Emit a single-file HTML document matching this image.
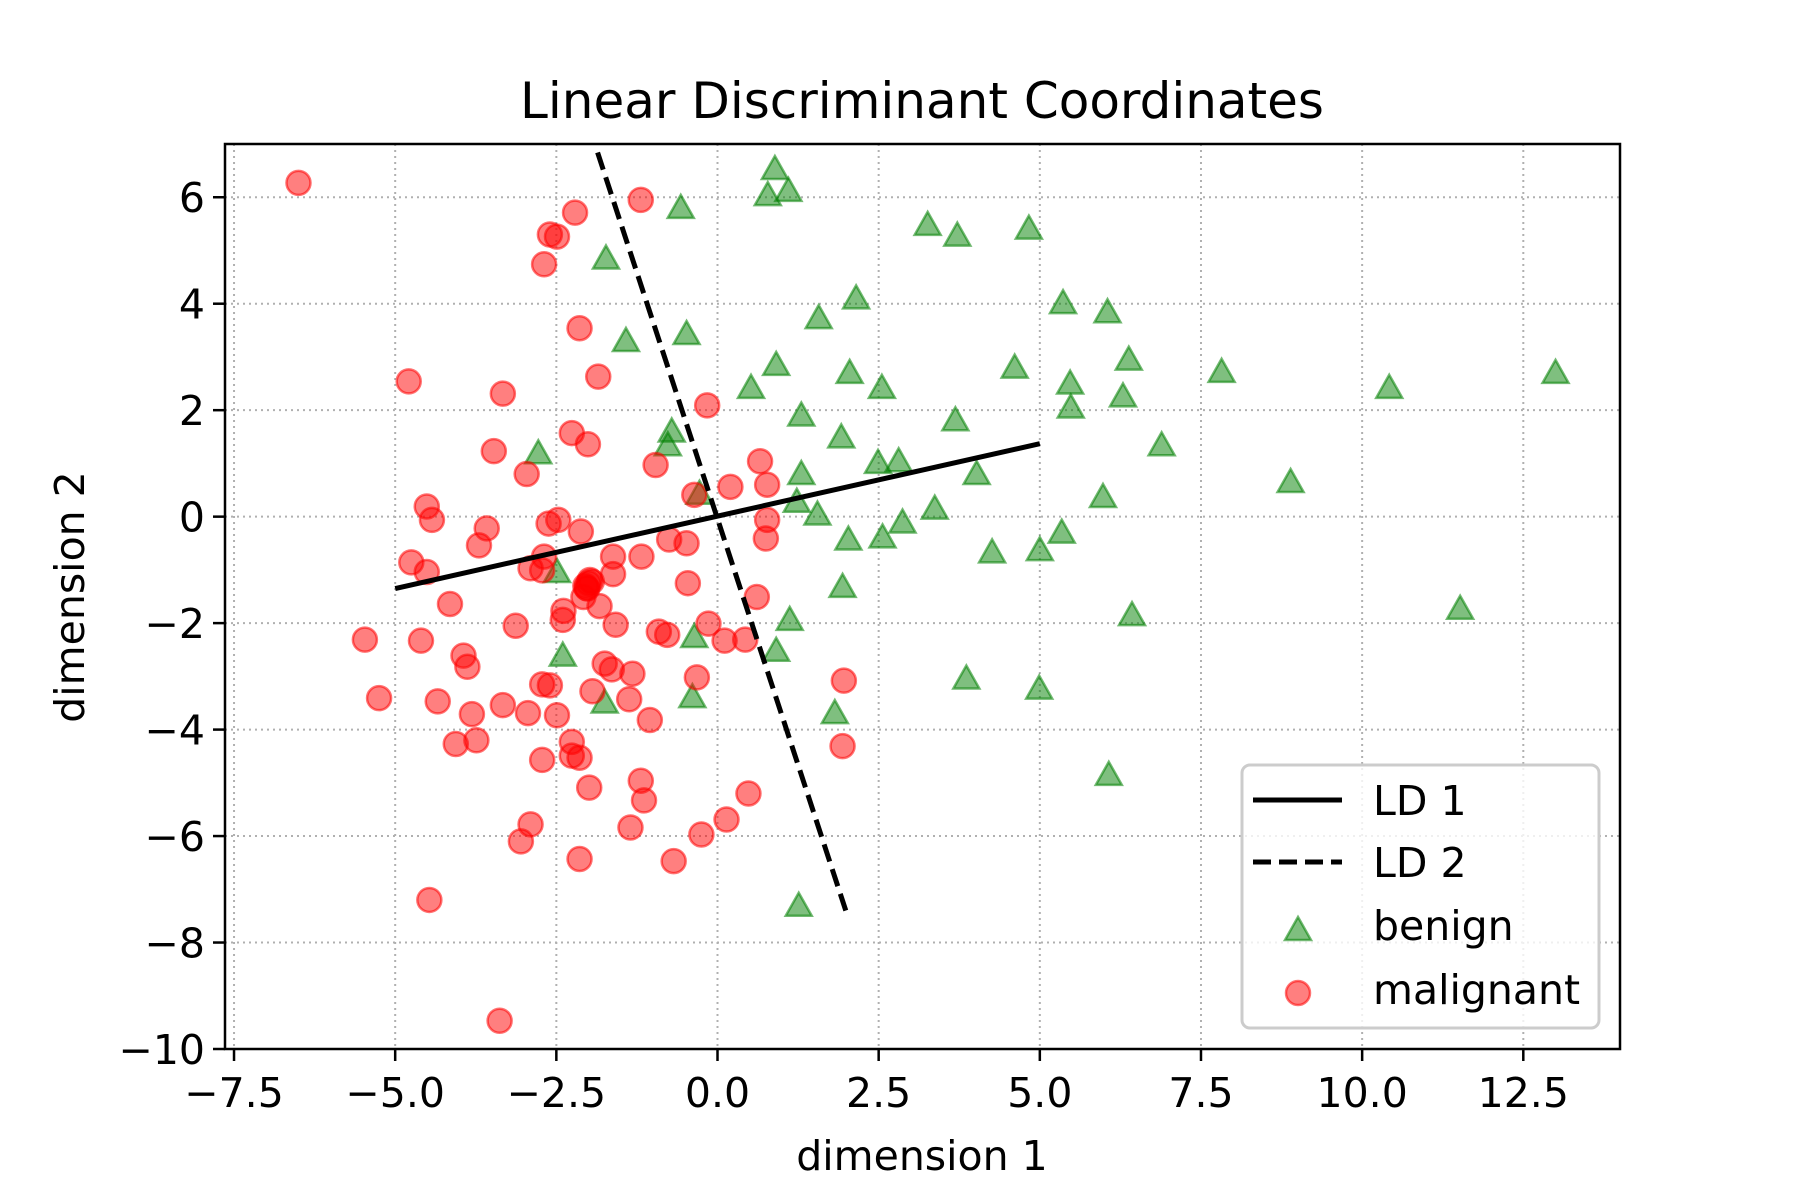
<!DOCTYPE html>
<html><head><meta charset="utf-8"><style>
html,body{margin:0;padding:0;background:#fff;}
svg{display:block;font-family:"DejaVu Sans","Liberation Sans",sans-serif;}
</style></head><body>
<svg id="chart" width="1800" height="1200" viewBox="0 0 1800 1200">
<g id="grid"></g>
<g id="lines"></g>
<g id="marks"></g>
<g id="axes"></g>
<text x="922" y="118" font-size="50" text-anchor="middle">Linear Discriminant Coordinates</text>
<text x="922" y="1170" font-size="41" text-anchor="middle">dimension 1</text>
<text x="0" y="0" font-size="41" text-anchor="middle" transform="translate(84,597) rotate(-90)">dimension 2</text>
<g>
<rect x="1242" y="765" width="357" height="263" rx="8" fill="#fff" fill-opacity="0.8" stroke="#cccccc" stroke-width="3"/>
<line x1="1253" y1="800" x2="1342" y2="800" stroke="#000" stroke-width="5"/>
<text x="1373" y="815" font-size="41">LD 1</text>
<line x1="1253" y1="862" x2="1342" y2="862" stroke="#000" stroke-width="5" stroke-dasharray="18,8"/>
<text x="1373" y="877" font-size="41">LD 2</text>
<polygon points="1298,917 1311,940 1285,940" fill="rgba(0,128,0,0.5)" stroke="rgba(0,128,0,0.55)" stroke-width="2.5"/>
<text x="1373" y="940" font-size="41">benign</text>
<circle cx="1298" cy="993" r="12" fill="rgba(255,0,0,0.5)" stroke="rgba(255,0,0,0.55)" stroke-width="2.5"/>
<text x="1373" y="1004" font-size="41">malignant</text>
</g>
</svg>
<script>
const xTicks = [-7.5,-5.0,-2.5,0.0,2.5,5.0,7.5,10.0,12.5];
const xTickLabels = ["\u22127.5","\u22125.0","\u22122.5","0.0","2.5","5.0","7.5","10.0","12.5"];
const yTicks = [-10,-8,-6,-4,-2,0,2,4,6];
const yTickLabels = ["\u221210","\u22128","\u22126","\u22124","\u22122","0","2","4","6"];
const ld1X = [-5.0, 5.0];
const ld1Y = [-1.35, 1.37];
const ld2X = [-1.86, 1.99];
const ld2Y = [6.84, -7.40];
const benignX = [0.89,0.78,1.10,-0.57,3.26,3.72,4.83,-1.73,2.15,5.36,6.05,1.57,-1.42,-0.48,6.38,4.61,0.91,2.05,7.82,13.0,10.42,5.47,0.52,2.55,6.29,5.48,1.30,3.69,-0.71,-0.77,1.92,6.89,-2.78,2.49,2.81,4.02,1.30,8.89,1.23,-0.28,5.98,3.37,1.55,2.87,2.03,2.56,5.34,4.26,5.00,-2.49,1.94,11.52,1.12,6.43,-0.36,0.91,-2.40,3.86,4.99,-0.39,-1.75,1.82,6.07,1.26];
const benignY = [6.53,6.04,6.12,5.80,5.48,5.28,5.41,4.85,4.10,4.01,3.84,3.73,3.30,3.43,2.95,2.80,2.85,2.70,2.72,2.70,2.42,2.50,2.42,2.42,2.26,2.05,1.90,1.81,1.60,1.34,1.49,1.34,1.19,1.01,1.04,0.80,0.80,0.65,0.28,0.43,0.37,0.15,0.04,-0.11,-0.43,-0.39,-0.30,-0.67,-0.63,-1.04,-1.32,-1.73,-1.94,-1.85,-2.26,-2.52,-2.61,-3.04,-3.23,-3.39,-3.49,-3.69,-4.85,-7.31];
const malignantX = [-6.50,-1.19,-2.21,-2.60,-2.49,-2.69,-2.14,-1.85,-4.79,-3.33,-0.16,-2.26,-2.01,-3.47,-2.96,-0.96,0.66,0.77,0.20,-0.36,-4.51,-4.43,-3.58,-3.70,-2.47,-2.62,-2.12,0.77,0.75,-0.75,-0.48,-2.69,-1.62,-1.18,-4.75,-4.51,-2.90,-2.72,-1.62,-1.98,-2.03,-2.08,-0.46,0.61,-4.15,-2.39,-1.83,-2.40,-3.13,-1.58,-0.14,-0.91,-0.78,0.11,0.43,-5.47,-4.60,-3.94,-3.88,-1.75,-1.64,-2.72,-2.60,-1.32,-0.32,1.96,-1.94,-5.25,-4.34,-3.33,-1.37,-3.81,-2.94,-2.49,-1.05,-4.06,-3.74,-2.26,-2.26,-2.14,-2.72,1.94,-1.19,-1.14,-1.99,0.48,0.14,-2.90,-1.35,-3.05,-2.14,-0.25,-0.68,-4.47,-3.38,-2.00,-2.05,-1.95,-2.02];
const malignantY = [6.27,5.95,5.71,5.30,5.26,4.74,3.54,2.63,2.54,2.31,2.09,1.57,1.36,1.23,0.80,0.97,1.04,0.60,0.56,0.41,0.19,-0.06,-0.22,-0.54,-0.06,-0.13,-0.28,-0.06,-0.41,-0.43,-0.50,-0.75,-0.75,-0.75,-0.86,-1.04,-0.97,-1.01,-1.08,-1.19,-1.34,-1.51,-1.25,-1.51,-1.64,-1.77,-1.68,-1.94,-2.05,-2.03,-2.01,-2.16,-2.22,-2.33,-2.31,-2.31,-2.33,-2.61,-2.82,-2.76,-2.87,-3.15,-3.17,-2.95,-3.02,-3.08,-3.28,-3.41,-3.47,-3.54,-3.43,-3.71,-3.69,-3.73,-3.82,-4.27,-4.20,-4.23,-4.49,-4.53,-4.57,-4.31,-4.96,-5.33,-5.09,-5.20,-5.69,-5.78,-5.84,-6.10,-6.43,-5.97,-6.47,-7.20,-9.47,-1.25,-1.30,-1.22,-1.35];

const L=225, R=1620, T=144, B=1049;
const X0=-7.64, X1=14.0, Y0=-10, Y1=7;
const sx = v => L + (v - X0) / (X1 - X0) * (R - L);
const sy = v => B - (v - Y0) / (Y1 - Y0) * (B - T);
const NS="http://www.w3.org/2000/svg";
function mk(tag, attrs, parent){ const e=document.createElementNS(NS,tag); for(const k in attrs) e.setAttribute(k,attrs[k]); parent.appendChild(e); return e; }
const grid=document.getElementById('grid'), axes=document.getElementById('axes'), lines=document.getElementById('lines'), marks=document.getElementById('marks');

xTicks.forEach((t,i)=>{
  const g=mk('line',{x1:sx(t),x2:sx(t),y1:T,y2:B,stroke:'#b0b0b0','stroke-width':2,'stroke-dasharray':'2,4'},grid);
  
  
  const tk=mk('line',{x1:sx(t),x2:sx(t),y1:B,y2:B+12,stroke:'#000','stroke-width':2.5},axes);
  
  
  const tl=mk('text',{x:sx(t),y:B+58,'font-size':41,'text-anchor':'middle'},axes);
  tl.textContent=xTickLabels[i];
  
  
});
yTicks.forEach((t,i)=>{
  const g=mk('line',{x1:L,x2:R,y1:sy(t),y2:sy(t),stroke:'#b0b0b0','stroke-width':2,'stroke-dasharray':'2,4'},grid);
  
  
  const tk=mk('line',{x1:L-12,x2:L,y1:sy(t),y2:sy(t),stroke:'#000','stroke-width':2.5},axes);
  
  
  const tl=mk('text',{x:L-20,y:sy(t)+15,'font-size':41,'text-anchor':'end'},axes);
  tl.textContent=yTickLabels[i];
  
  
});
const frame=mk('rect',{x:L,y:T,width:R-L,height:B-T,fill:'none',stroke:'#000','stroke-width':2.5},axes);



benignX.forEach((v,i)=>{
  const cx=sx(v), cy=sy(benignY[i]);
  const p=mk('polygon',{points:`${cx},${cy-13} ${cx+13},${cy+10} ${cx-13},${cy+10}`,fill:'rgba(0,128,0,0.5)',stroke:'rgba(0,128,0,0.55)','stroke-width':2.5},marks);
  
  
});
malignantX.forEach((v,i)=>{
  const c=mk('circle',{cx:sx(v),cy:sy(malignantY[i]),r:12,fill:'rgba(255,0,0,0.5)',stroke:'rgba(255,0,0,0.55)','stroke-width':2.5},marks);
  
  
});
const l1=mk('line',{x1:sx(ld1X[0]),y1:sy(ld1Y[0]),x2:sx(ld1X[1]),y2:sy(ld1Y[1]),stroke:'#000','stroke-width':5},lines);


const l2=mk('line',{x1:sx(ld2X[0]),y1:sy(ld2Y[0]),x2:sx(ld2X[1]),y2:sy(ld2Y[1]),stroke:'#000','stroke-width':5,'stroke-dasharray':'18,8'},lines);


document.getElementById('chart').appendChild(lines);
</script>
</body></html>
